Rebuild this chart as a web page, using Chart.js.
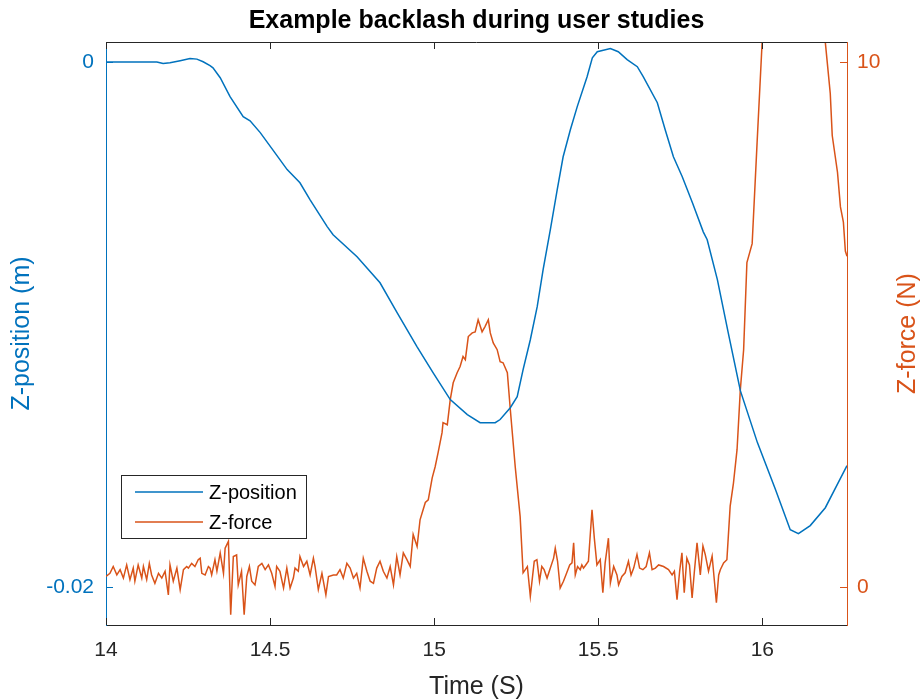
<!DOCTYPE html>
<html>
<head>
<meta charset="utf-8">
<script src="https://cdn.jsdelivr.net/npm/chart.js@4/dist/chart.umd.min.js"></script>
<style>
  html, body { margin: 0; padding: 0; background: #fff; }
  #wrap { width: 921px; height: 700px; }
</style>
</head>
<body>
<div id="wrap"><canvas id="backlashChart" width="921" height="700"></canvas></div>
<script>
// --- Z-position samples (s, m) ---
const posTime = [
  14.000, 14.155, 14.174, 14.195, 14.226, 14.256, 14.277, 14.296, 14.317, 14.326,
  14.348, 14.378, 14.418, 14.439, 14.470, 14.515, 14.552, 14.591, 14.622, 14.674,
  14.692, 14.765, 14.835, 14.887, 14.948, 14.997, 15.049, 15.101, 15.140, 15.186,
  15.201, 15.232, 15.253, 15.271, 15.293, 15.314, 15.332, 15.354, 15.375, 15.393,
  15.415, 15.436, 15.466, 15.482, 15.497, 15.537, 15.561, 15.588, 15.619, 15.637,
  15.680, 15.704, 15.729, 15.756, 15.787, 15.820, 15.832, 15.863, 15.896, 15.933,
  15.985, 16.040, 16.085, 16.110, 16.146, 16.192, 16.258
];
const posValue = [
  0, 0, -0.00006, -0.00003, 0.00005, 0.00013, 0.00011, 0.00001, -0.00014, -0.00022,
  -0.00060, -0.00132, -0.00208, -0.00224, -0.00269, -0.00346, -0.00410, -0.00460, -0.00525, -0.00627,
  -0.00658, -0.00742, -0.00841, -0.00955, -0.01085, -0.01184, -0.01286, -0.01343, -0.01374, -0.01374,
  -0.01362, -0.01317, -0.01275, -0.01172, -0.01058, -0.00932, -0.00791, -0.00639, -0.00486, -0.00361,
  -0.00258, -0.00170, -0.00056, 0.00016, 0.00039, 0.00051, 0.00039, 0.00009, -0.00018, -0.00056,
  -0.00155, -0.00258, -0.00361, -0.00437, -0.00536, -0.00647, -0.00677, -0.00829, -0.01031, -0.01252,
  -0.01450, -0.01629, -0.01782, -0.01797, -0.01766, -0.01698, -0.01538
];

// --- Z-force samples (s, N) ---
const forceTime = [
  14.000, 14.012, 14.022, 14.033, 14.043, 14.053, 14.063, 14.073, 14.083, 14.088,
  14.098, 14.109, 14.114, 14.124, 14.132, 14.139, 14.149, 14.160, 14.170, 14.180,
  14.190, 14.195, 14.205, 14.216, 14.226, 14.236, 14.246, 14.251, 14.261, 14.271,
  14.281, 14.287, 14.292, 14.302, 14.312, 14.317, 14.322, 14.332, 14.338, 14.348,
  14.358, 14.363, 14.373, 14.380, 14.388, 14.398, 14.403, 14.413, 14.421, 14.429,
  14.437, 14.444, 14.454, 14.464, 14.475, 14.485, 14.495, 14.505, 14.515, 14.520,
  14.530, 14.541, 14.551, 14.561, 14.571, 14.576, 14.586, 14.591, 14.602, 14.612,
  14.622, 14.632, 14.637, 14.647, 14.658, 14.670, 14.678, 14.693, 14.703, 14.713,
  14.723, 14.734, 14.744, 14.754, 14.764, 14.774, 14.784, 14.795, 14.805, 14.815,
  14.825, 14.835, 14.845, 14.856, 14.866, 14.876, 14.886, 14.896, 14.906, 14.917,
  14.927, 14.936, 14.948, 14.957, 14.973, 14.982, 14.994, 15.003, 15.012, 15.024,
  15.027, 15.040, 15.049, 15.058, 15.070, 15.079, 15.088, 15.095, 15.104, 15.116,
  15.125, 15.134, 15.146, 15.155, 15.165, 15.171, 15.180, 15.192, 15.201, 15.210,
  15.223, 15.232, 15.247, 15.262, 15.271, 15.284, 15.293, 15.305, 15.313, 15.321,
  15.328, 15.335, 15.344, 15.354, 15.364, 15.369, 15.376, 15.384, 15.394, 15.404,
  15.413, 15.420, 15.425, 15.430, 15.437, 15.445, 15.450, 15.455, 15.462, 15.470,
  15.481, 15.488, 15.496, 15.506, 15.514, 15.521, 15.531, 15.537, 15.547, 15.557,
  15.562, 15.572, 15.582, 15.592, 15.600, 15.608, 15.618, 15.626, 15.636, 15.646,
  15.656, 15.664, 15.674, 15.684, 15.699, 15.714, 15.725, 15.732, 15.740, 15.748,
  15.755, 15.762, 15.770, 15.778, 15.786, 15.793, 15.801, 15.811, 15.819, 15.826,
  15.836, 15.847, 15.860, 15.867, 15.872, 15.882, 15.892, 15.902, 15.912, 15.923,
  15.933, 15.943, 15.953, 15.969, 15.984, 15.999, 16.030, 16.100, 16.170, 16.192,
  16.207, 16.213, 16.229, 16.238, 16.247, 16.253, 16.258
];
const forceValue = [
  0.20, 0.26, 0.39, 0.23, 0.33, 0.17, 0.42, 0.14, 0.36, 0.11,
  0.42, 0.17, 0.39, 0.14, 0.45, 0.23, 0.07, 0.26, 0.17, 0.30,
  -0.15, 0.42, 0.11, 0.36, -0.05, 0.33, 0.39, 0.36, 0.45, 0.39,
  0.52, 0.55, 0.26, 0.23, 0.39, 0.36, 0.23, 0.52, 0.30, 0.65,
  0.26, 0.74, 0.87, -0.53, 0.58, 0.61, 0.04, 0.30, -0.53, 0.20,
  0.39, 0.11, 0.04, 0.39, 0.45, 0.33, 0.42, 0.26, 0.01, 0.39,
  0.30, -0.02, 0.36, -0.02, 0.17, 0.36, 0.30, 0.58, 0.39, 0.49,
  0.23, 0.55, 0.39, -0.05, 0.26, -0.15, 0.20, 0.23, 0.23, 0.33,
  0.17, 0.45, 0.36, 0.17, 0.26, -0.02, 0.55, 0.30, 0.11, 0.07,
  0.36, 0.49, 0.30, 0.17, 0.39, 0.04, 0.58, 0.23, 0.65, 0.52,
  0.39, 1.00, 0.77, 1.28, 1.61, 1.66, 2.08, 2.29, 2.56, 2.94,
  3.13, 3.09, 3.57, 3.89, 4.08, 4.20, 4.39, 4.33, 4.77, 4.84,
  4.86, 5.09, 4.86, 4.96, 5.09, 4.84, 4.65, 4.52, 4.29, 4.27,
  4.08, 3.38, 2.29, 1.34, 0.27, 0.39, -0.18, 0.49, 0.52, 0.11,
  0.39, 0.33, 0.17, 0.36, 0.55, 0.74, 0.49, -0.02, 0.11, 0.27,
  0.42, 0.46, 0.84, 0.23, 0.39, 0.33, 0.42, 0.36, 0.42, 0.49,
  1.47, 0.93, 0.42, 0.52, -0.11, 0.46, 0.93, 0.08, 0.39, 0.23,
  0.04, 0.20, 0.27, 0.49, 0.23, 0.36, 0.62, 0.36, 0.33, 0.39,
  0.65, 0.33, 0.36, 0.42, 0.39, 0.33, 0.23, 0.30, -0.24, 0.30,
  0.65, -0.11, 0.55, 0.42, -0.21, 0.30, 0.84, 0.23, 0.78, 0.62,
  0.30, 0.59, -0.30, 0.23, 0.33, 0.46, 0.52, 1.54, 1.98, 2.62,
  3.76, 4.52, 6.18, 6.54, 8.46, 10.33, 13.5, 14.5, 13.0, 10.37,
  9.40, 8.60, 7.90, 7.24, 6.95, 6.40, 6.30
];

// --- axis ticks and limits ---
const timeTicks = [14, 14.5, 15, 15.5, 16];
const posTicks = [-0.02, 0];
const forceTicks = [0, 10];
const timeRange = [14, 16.258];
const posRange = [-0.021448, 0.000762];
const forceRange = [-0.724, 10.381];

const blue = "#0072BD";
const orange = "#D95319";
const axisGray = "#262626";
const fontFamily = "'Liberation Sans', Arial, Helvetica, sans-serif";
const tickLen = 7;

const pairs = (xs, ys) => xs.map((x, i) => ({ x, y: ys[i] }));
const setTicks = list => scale => { scale.ticks = list.map(v => ({ value: v })); };

// frame top edge, inward ticks, right axis label and legend box
const frameAndLegend = {
  id: "frameAndLegend",
  afterDraw(chart) {
    const { ctx, chartArea: a, scales } = chart;
    ctx.save();
    ctx.lineWidth = 1;

    ctx.strokeStyle = axisGray;
    ctx.beginPath();
    ctx.moveTo(a.left, a.top + 0.5);
    ctx.lineTo(a.right, a.top + 0.5);
    timeTicks.forEach(v => {
      const x = Math.round(scales.x.getPixelForValue(v)) + 0.5;
      ctx.moveTo(x, a.bottom);
      ctx.lineTo(x, a.bottom - tickLen);
      ctx.moveTo(x, a.top);
      ctx.lineTo(x, a.top + tickLen);
    });
    ctx.stroke();

    ctx.strokeStyle = blue;
    ctx.beginPath();
    posTicks.forEach(v => {
      const y = Math.round(scales.y.getPixelForValue(v)) + 0.5;
      ctx.moveTo(a.left, y);
      ctx.lineTo(a.left + tickLen, y);
    });
    ctx.stroke();

    ctx.strokeStyle = orange;
    ctx.beginPath();
    forceTicks.forEach(v => {
      const y = Math.round(scales.y1.getPixelForValue(v)) + 0.5;
      ctx.moveTo(a.right, y);
      ctx.lineTo(a.right - tickLen, y);
    });
    ctx.stroke();

    // right axis title reads bottom to top
    ctx.save();
    ctx.translate(chart.width - 13, (a.top + a.bottom) / 2);
    ctx.rotate(-Math.PI / 2);
    ctx.fillStyle = orange;
    ctx.font = "25px " + fontFamily;
    ctx.textAlign = "center";
    ctx.textBaseline = "middle";
    ctx.fillText("Z-force (N)", 0, 0);
    ctx.restore();

    // legend
    const bx = a.left + 15, by = a.top + 433, bw = 185, bh = 63;
    ctx.fillStyle = "#fff";
    ctx.fillRect(bx, by, bw, bh);
    ctx.strokeStyle = axisGray;
    ctx.strokeRect(bx + 0.5, by + 0.5, bw, bh);
    ctx.font = "20px " + fontFamily;
    ctx.textAlign = "left";
    ctx.textBaseline = "middle";
    chart.data.datasets.forEach((ds, i) => {
      const y = by + 17 + i * 30;
      ctx.strokeStyle = ds.borderColor;
      ctx.lineWidth = 1.5;
      ctx.beginPath();
      ctx.moveTo(bx + 14, y);
      ctx.lineTo(bx + 82, y);
      ctx.stroke();
      ctx.fillStyle = "#000";
      ctx.fillText(ds.label, bx + 88, y + 1);
    });
    ctx.restore();
  }
};

new Chart(document.getElementById("backlashChart"), {
  type: "line",
  data: {
    datasets: [
      {
        label: "Z-position",
        data: pairs(posTime, posValue),
        yAxisID: "y",
        borderColor: blue,
        borderWidth: 1.5,
        pointRadius: 0,
        tension: 0,
        fill: false
      },
      {
        label: "Z-force",
        data: pairs(forceTime, forceValue),
        yAxisID: "y1",
        borderColor: orange,
        borderWidth: 1.5,
        pointRadius: 0,
        tension: 0,
        fill: false
      }
    ]
  },
  options: {
    responsive: false,
    animation: false,
    devicePixelRatio: 1,
    layout: { padding: 0 },
    plugins: {
      legend: { display: false },
      tooltip: { enabled: false },
      title: {
        display: true,
        text: "Example backlash during user studies",
        color: "#000",
        fullSize: false,
        font: { family: fontFamily, size: 25, weight: "bold", lineHeight: 1.2 },
        padding: { top: 6, bottom: 6 }
      }
    },
    scales: {
      x: {
        type: "linear",
        position: "bottom",
        min: timeRange[0],
        max: timeRange[1],
        afterBuildTicks: setTicks(timeTicks),
        afterFit: s => { s.height = 75; },
        grid: { display: false, drawTicks: false },
        border: { display: true, color: axisGray, width: 1 },
        ticks: {
          color: axisGray,
          padding: 13,
          maxRotation: 0,
          font: { family: fontFamily, size: 21 },
          callback: v => String(v)
        },
        title: {
          display: true,
          text: "Time (S)",
          color: axisGray,
          font: { family: fontFamily, size: 25, lineHeight: 1 },
          padding: { top: 0, bottom: 0 }
        }
      },
      y: {
        type: "linear",
        position: "left",
        min: posRange[0],
        max: posRange[1],
        afterBuildTicks: setTicks(posTicks),
        afterFit: s => { s.width = 106; },
        grid: { display: false, drawTicks: false },
        border: { display: true, color: blue, width: 1 },
        ticks: {
          color: blue,
          padding: 12,
          font: { family: fontFamily, size: 21 },
          callback: v => String(v)
        },
        title: {
          display: true,
          text: "Z-position (m)",
          color: blue,
          font: { family: fontFamily, size: 25, lineHeight: 1 },
          padding: { top: 10, bottom: 0 }
        }
      },
      y1: {
        type: "linear",
        position: "right",
        min: forceRange[0],
        max: forceRange[1],
        afterBuildTicks: setTicks(forceTicks),
        afterFit: s => { s.width = 74; },
        grid: { display: false, drawTicks: false },
        border: { display: true, color: orange, width: 1 },
        ticks: {
          color: orange,
          padding: 10,
          font: { family: fontFamily, size: 21 },
          callback: v => String(v)
        }
      }
    }
  },
  plugins: [frameAndLegend]
});
</script>
</body>
</html>
